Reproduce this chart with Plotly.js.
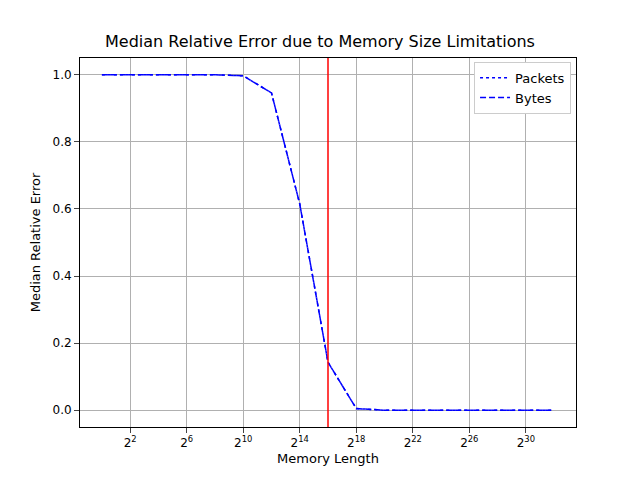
<!DOCTYPE html>
<html>
<head>
<script src="https://cdn.plot.ly/plotly-3.0.1.min.js"></script>
<style>body{margin:0}</style>
</head>
<body>
<div id="chart" style="width:640px;height:480px"></div>
<script>
// memory length exponents (2^k)
var exps = [0, 2, 4, 6, 8, 10, 12, 14, 16, 18, 20, 22, 24, 26, 28, 30, 32];
var packets = [1.0, 1.0, 1.0, 1.0, 1.0, 0.997, 0.946, 0.615, 0.143, 0.005, 0.0, 0.0, 0.0, 0.0, 0.0, 0.0, 0.0];
var bytes = [1.0, 1.0, 1.0, 1.0, 1.0, 0.997, 0.946, 0.615, 0.143, 0.005, 0.0, 0.0, 0.0, 0.0, 0.0, 0.0, 0.0];
var limitExp = 16;

var xs = exps.map(function (e) { return Math.pow(2, e); });
var tickExps = [2, 6, 10, 14, 18, 22, 26, 30];

var data = [
    { x: xs, y: packets, name: 'Packets', type: 'scatter', mode: 'lines',
      line: { color: 'blue', dash: 'dot', width: 1.5 } },
    { x: xs, y: bytes, name: 'Bytes', type: 'scatter', mode: 'lines',
      line: { color: 'blue', dash: '6px,3px', width: 1.5 } }
];

var layout = {
    width: 640, height: 480,
    margin: { l: 80, r: 64, t: 58, b: 53 },
    paper_bgcolor: 'white', plot_bgcolor: 'white',
    font: { family: 'DejaVu Sans', size: 12, color: 'black' },
    title: { text: 'Median Relative Error due to Memory Size Limitations', font: { size: 16 }, x: 0.5, y: 0.925 },
    xaxis: {
        type: 'log', range: [-1.55 * Math.log10(2), 33.55 * Math.log10(2)],
        tickvals: tickExps.map(function (e) { return Math.pow(2, e); }),
        ticktext: tickExps.map(function (e) { return '2<sup>' + e + '</sup>'; }),
        showgrid: true, gridcolor: '#b0b0b0', zeroline: false,
        showline: true, mirror: true, linecolor: 'black', ticks: 'outside',
        title: { text: 'Memory Length', standoff: 4, font: { size: 13 } }
    },
    yaxis: {
        range: [-0.05, 1.05], tickvals: [0, 0.2, 0.4, 0.6, 0.8, 1.0],
        tickformat: '.1f',
        showgrid: true, gridcolor: '#b0b0b0', zeroline: false,
        showline: true, mirror: true, linecolor: 'black', ticks: 'outside',
        title: { text: 'Median Relative Error', standoff: 8, font: { size: 13 } }
    },
    shapes: [{
        type: 'line', xref: 'x', yref: 'paper',
        x0: Math.pow(2, limitExp), x1: Math.pow(2, limitExp), y0: 0, y1: 1,
        line: { color: 'red', width: 1.5 }
    }],
    legend: { x: 0.99, y: 0.99, xanchor: 'right', yanchor: 'top',
        bordercolor: '#cccccc', borderwidth: 1, bgcolor: 'white', font: { size: 13 } },
    showlegend: true
};

Plotly.newPlot('chart', data, layout, { displayModeBar: false });
</script>
</body>
</html>
